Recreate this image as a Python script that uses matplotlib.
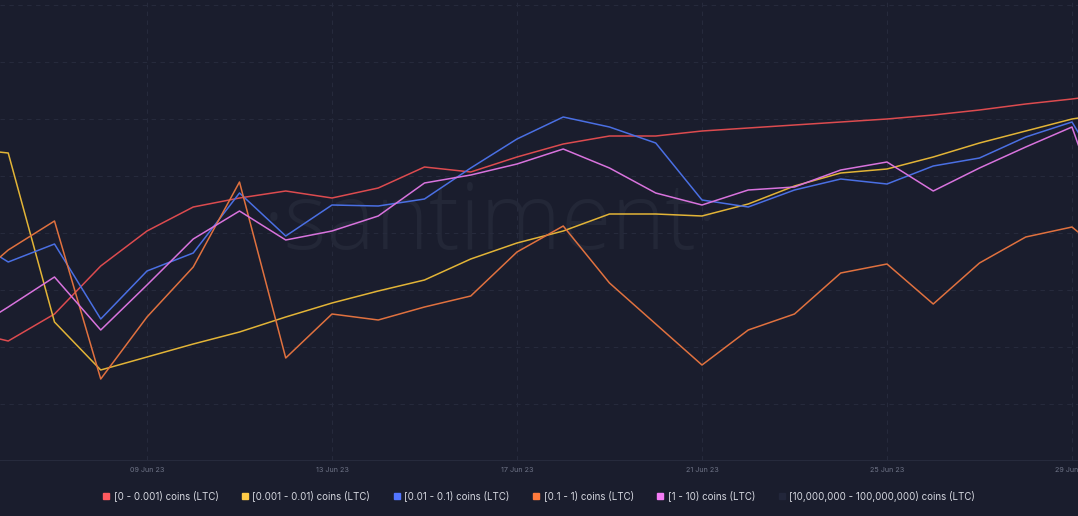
import numpy as np
import pandas as pd
import matplotlib
matplotlib.use("Agg")
import matplotlib.pyplot as plt
import matplotlib.dates as mdates
from matplotlib.lines import Line2D

# Donnees (unites arbitraires, axe Y masque)
dates = pd.date_range("2023-06-05", "2023-06-30", freq="D")

s_0_0001 = [130, 119, 146, 194, 229, 253, 262, 269, 262, 272, 293, 288, 303,
            316, 324, 324, 329, 332, 335, 338, 341, 345, 350, 356, 361, 367]
s_0001_001 = [312, 307, 138, 90, 103, 116, 128, 143, 157, 169, 180, 201, 217,
              229, 246, 246, 244, 256, 274, 287, 291, 303, 317, 329, 341, 348]
s_001_01 = [227, 198, 216, 141, 189, 207, 267, 224, 255, 254, 261, 292, 321,
            343, 333, 317, 260, 253, 270, 281, 276, 294, 302, 323, 338, 261]
s_01_1 = [170, 210, 239, 81, 143, 193, 278, 102, 146, 140, 153, 164, 208,
          234, 177, 136, 95, 130, 146, 187, 196, 156, 197, 223, 233, 195]
s_1_10 = [124, 153, 183, 130, 175, 221, 249, 220, 229, 244, 277, 285, 296,
          311, 292, 267, 255, 270, 273, 290, 298, 269, 292, 313, 333, 202]

labels = ["[0 - 0.001) coins (LTC)", "[0.001 - 0.01) coins (LTC)",
          "[0.01 - 0.1) coins (LTC)", "[0.1 - 1) coins (LTC)",
          "[1 - 10) coins (LTC)", "[10,000,000 - 100,000,000) coins (LTC)"]
series = [s_0_0001, s_0001_001, s_001_01, s_01_1, s_1_10]

line_colors = ["#dc4b4f", "#e2b437", "#4a6fe3", "#e0713f", "#d873dd"]
legend_colors = ["#ff5a5f", "#ffcb47", "#5275ff", "#ff7a3d", "#f47cf5", "#22263a"]

bg = "#1a1d2d"
grid = "#262a3c"

fig = plt.figure(figsize=(10.78, 5.16), dpi=100, facecolor=bg)
ax = fig.add_axes([0, 56/516, 1, 460/516], facecolor=bg)

for vals, col in zip(series, line_colors):
    ax.plot(dates, vals, color=col, linewidth=1.1, zorder=3)

x0 = mdates.date2num(pd.Timestamp("2023-06-09"))
ax.set_xlim(x0 - 3.178, x0 + 20.13)
ax.set_ylim(0, 460)

# Filigrane
ax.text(0.455, 0.51, "\u00b7santiment\u00b7", transform=ax.transAxes,
        ha="center", va="center", fontsize=66, color="#232737",
        family="Open Sans", fontweight="light", zorder=1)

ticks = pd.date_range("2023-06-09", "2023-06-29", freq="4D")
ax.set_xticks(ticks)
ax.xaxis.set_major_formatter(mdates.DateFormatter("%d %b %y"))
ax.set_yticks([56, 113, 170, 227, 284, 341, 398, 455])
ax.set_yticklabels([])
ax.grid(True, color=grid, linestyle=(0, (4, 4)), linewidth=0.8, zorder=0)
ax.tick_params(axis="x", length=0, pad=5, labelsize=5.2, labelcolor="#6f7487")
ax.tick_params(axis="y", length=0)
for lab in ax.get_xticklabels():
    lab.set_family("Inter")
for side in ["top", "left", "right"]:
    ax.spines[side].set_visible(False)
ax.spines["bottom"].set_color(grid)
ax.spines["bottom"].set_linewidth(0.8)

handles = [Line2D([], [], marker="s", linestyle="none", markersize=5,
                  markerfacecolor=c, markeredgecolor=c) for c in legend_colors]
leg = fig.legend(handles, labels, loc="center", bbox_to_anchor=(0.5, 20/516),
                 ncol=6, frameon=False, handlelength=0.6, handletextpad=0.5,
                 columnspacing=2.4, prop={"family": "Inter", "size": 7})
for t in leg.get_texts():
    t.set_color("#d6d8e0")

fig.savefig("out.png", dpi=100, facecolor=bg)
